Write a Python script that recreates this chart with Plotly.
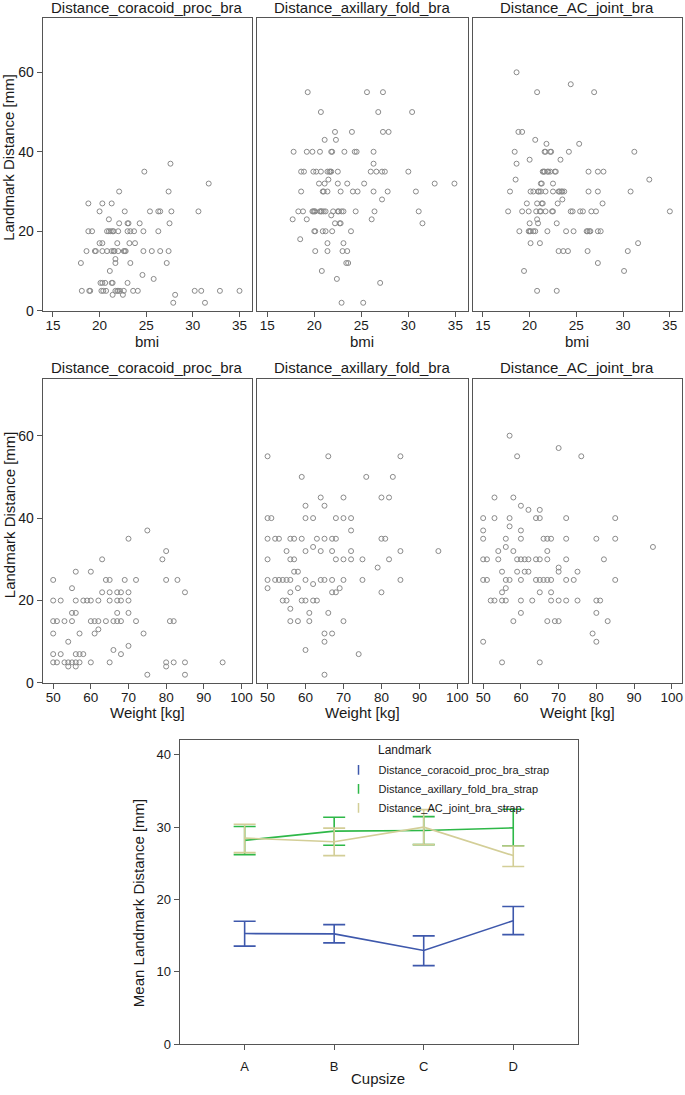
import plotly.graph_objects as go

# ---------------- data: BMI panels ----------------
bmi_coracoid_x = [
    27.6, 24.8, 31.7,
    22.1, 27.4,
    18.8, 20.3, 21.3,
    20.0, 22.7, 25.4, 26.3, 26.5, 27.7, 30.6,
    21.0,
    22.1, 23.0, 23.1, 24.3, 27.5,
    18.8, 19.2, 20.8, 21.0, 21.2, 21.4, 21.5, 22.0, 23.0, 23.3, 23.7, 24.7, 26.3,
    20.0, 20.3, 21.9, 23.2, 23.8,
    18.6, 19.5, 19.6, 20.3, 20.8, 21.3, 21.5, 21.6, 22.0, 22.6, 22.7, 22.8, 24.7, 25.6, 26.5, 27.4,
    21.7,
    18.0, 21.7, 23.3, 27.2,
    21.1, 24.6, 25.8,
    20.1, 20.3, 20.6, 21.3, 21.4, 23.0,
    18.1, 18.9, 19.0, 20.2, 20.4, 20.7, 21.7, 21.9, 22.0, 22.2, 22.6, 23.6, 24.1, 30.2, 30.9, 32.9, 35.0,
    21.4, 22.5, 28.1,
    27.9, 31.3,
]
bmi_coracoid_y = [
    37, 35, 32,
    30, 30,
    27, 27, 27,
    25, 25, 25, 25, 25, 25, 25,
    23,
    22, 22, 22, 22, 22,
    20, 20, 20, 20, 20, 20, 20, 20, 20, 20, 20, 20, 20,
    17, 17, 17, 17, 17,
    15, 15, 15, 15, 15, 15, 15, 15, 15, 15, 15, 15, 15, 15, 15, 15,
    13,
    12, 12, 12, 12,
    10, 9, 8,
    7, 7, 7, 7, 7, 7,
    5, 5, 5, 5, 5, 5, 5, 5, 5, 5, 5, 5, 5, 5, 5, 5, 5,
    4, 4, 4,
    2, 2,
]

bmi_axillary_x = [
    19.3, 25.6, 27.3,
    20.7, 26.8, 30.4,
    22.2, 24.0, 27.3, 27.9,
    21.1, 22.3,
    17.8, 19.2, 19.8, 20.6, 21.8, 21.9, 23.2, 24.3, 24.5, 26.3,
    26.3,
    18.6, 18.9, 19.9, 20.2, 20.7, 21.4, 21.6, 21.7, 21.8, 22.5, 26.0, 26.6, 27.2, 27.5, 30.0,
    21.5,
    20.5, 21.1, 22.5, 23.5, 25.3, 32.8, 34.9,
    18.6, 20.9, 21.0, 21.4, 22.8, 24.1, 24.6, 26.3, 27.8, 30.8,
    27.2,
    18.3, 18.8, 19.8, 19.9, 20.0, 20.1, 20.6, 20.7, 20.8, 21.0, 21.2, 22.0, 22.5, 22.6, 22.9, 23.1, 24.4, 26.4, 31.1,
    21.8,
    17.7, 19.2, 26.1,
    22.2, 22.7, 22.8, 31.5,
    20.0, 20.1, 20.9, 21.2, 21.9, 23.9,
    18.5,
    21.4, 23.1,
    20.1, 21.4, 23.0, 23.5,
    23.4, 23.6,
    20.8, 22.4, 27.0,
    22.9, 25.2,
]
bmi_axillary_y = [
    55, 55, 55,
    50, 50, 50,
    45, 45, 45, 45,
    43, 43,
    40, 40, 40, 40, 40, 40, 40, 40, 40, 40,
    37,
    35, 35, 35, 35, 35, 35, 35, 35, 35, 35, 35, 35, 35, 35, 35,
    33,
    32, 32, 32, 32, 32, 32, 32,
    30, 30, 30, 30, 30, 30, 30, 30, 30, 30,
    28,
    25, 25, 25, 25, 25, 25, 25, 25, 25, 25, 25, 25, 25, 25, 25, 25, 25, 25, 25,
    24,
    23, 23, 23,
    22, 22, 22, 22,
    20, 20, 20, 20, 20, 20,
    18,
    17, 17,
    15, 15, 15, 15,
    12, 12,
    10, 8, 7,
    2, 2,
]

bmi_ac_x = [
    18.6, 24.4,
    20.8, 26.9,
    18.8, 19.2,
    20.6,
    21.8, 25.3,
    18.4, 21.6, 21.7, 22.2, 22.3, 24.2, 31.2,
    20.0, 23.3,
    18.6,
    21.4, 21.5, 21.6, 21.9, 22.0, 22.2, 22.7, 22.8, 26.3, 27.3, 27.9,
    18.5, 32.8,
    21.2, 21.3, 22.5,
    17.9, 20.1, 20.4, 20.9, 21.0, 21.2, 21.7, 22.5, 23.1, 23.2, 23.4, 23.5, 23.7, 26.3, 27.3, 30.8,
    23.5,
    19.7, 20.8, 21.3, 21.4, 23.0, 27.8,
    17.7, 19.2, 19.9, 20.7, 21.1, 21.2, 21.7, 22.4, 22.5, 24.4, 24.6, 25.4, 25.7, 26.6, 27.1, 35.0,
    20.8,
    20.0, 20.9, 22.9,
    18.9, 19.9, 20.0, 20.1, 20.4, 20.6, 21.9, 23.9, 24.7, 26.1, 26.2, 26.4, 26.5, 27.3, 27.6,
    20.1, 21.1, 31.6,
    23.1, 23.6, 24.1, 26.2, 30.5,
    27.3,
    19.4, 30.1,
    20.8, 22.9,
]
bmi_ac_y = [
    60, 57,
    55, 55,
    45, 45,
    43,
    42, 42,
    40, 40, 40, 40, 40, 40, 40,
    38, 38,
    37,
    35, 35, 35, 35, 35, 35, 35, 35, 35, 35, 35,
    33, 33,
    32, 32, 32,
    30, 30, 30, 30, 30, 30, 30, 30, 30, 30, 30, 30, 30, 30, 30, 30,
    28,
    27, 27, 27, 27, 27, 27,
    25, 25, 25, 25, 25, 25, 25, 25, 25, 25, 25, 25, 25, 25, 25, 25,
    23,
    22, 22, 22,
    20, 20, 20, 20, 20, 20, 20, 20, 20, 20, 20, 20, 20, 20, 20,
    17, 17, 17,
    15, 15, 15, 15, 15,
    12,
    10, 10,
    5, 5,
]

# ---------------- data: weight panels ----------------
weight_coracoid_x = [
    75, 70, 80,
    63, 79,
    56, 60,
    50, 64, 65, 69, 72, 80, 83,
    55,
    63, 65, 67, 68, 70, 85,
    50, 52, 56, 58, 59, 60, 62, 65, 67, 68, 70,
    55, 56, 67, 70,
    50, 51, 53, 55, 60, 61, 62, 64, 66, 67, 68, 72, 81, 82,
    62,
    50, 57, 61, 74,
    54, 70, 66,
    50, 52, 56, 57, 58, 68,
    50, 51, 53, 54, 55, 56, 57, 60, 65, 80, 82, 85, 95,
    54, 56, 80,
    75, 85,
]
weight_coracoid_y = [
    37, 35, 32,
    30, 30,
    27, 27,
    25, 25, 25, 25, 25, 25, 25,
    23,
    22, 22, 22, 22, 22, 22,
    20, 20, 20, 20, 20, 20, 20, 20, 20, 20, 20,
    17, 17, 17, 17,
    15, 15, 15, 15, 15, 15, 15, 15, 15, 15, 15, 15, 15, 15,
    13,
    12, 12, 12, 12,
    10, 9, 8,
    7, 7, 7, 7, 7, 7,
    5, 5, 5, 5, 5, 5, 5, 5, 5, 5, 5, 5, 5,
    4, 4, 4,
    2, 2,
]

weight_axillary_x = [
    50, 66, 85,
    59, 76, 83,
    64, 70, 80, 82,
    60, 65,
    50, 51, 60, 62, 68, 70, 72,
    72,
    50, 52, 53, 56, 57, 59, 63, 65, 67, 68, 80, 81,
    62,
    55, 60, 64, 67, 72, 85, 95,
    50, 56, 57, 68, 70, 72, 75, 82,
    79,
    57, 58,
    50, 52, 53, 54, 55, 56, 60, 64, 65, 67, 70, 75, 85,
    62,
    50, 58, 69,
    56, 67, 68, 80,
    54, 55, 59, 60, 62, 63,
    56,
    61, 66,
    56, 58, 61, 70,
    65, 67,
    65, 60, 74,
    65,
]
weight_axillary_y = [
    55, 55, 55,
    50, 50, 50,
    45, 45, 45, 45,
    43, 43,
    40, 40, 40, 40, 40, 40, 40,
    37,
    35, 35, 35, 35, 35, 35, 35, 35, 35, 35, 35, 35,
    33,
    32, 32, 32, 32, 32, 32, 32,
    30, 30, 30, 30, 30, 30, 30, 30,
    28,
    27, 27,
    25, 25, 25, 25, 25, 25, 25, 25, 25, 25, 25, 25, 25,
    24,
    23, 23, 23,
    22, 22, 22, 22,
    20, 20, 20, 20, 20, 20,
    18,
    17, 17,
    15, 15, 15, 15,
    12, 12,
    10, 8, 7,
    2,
]

weight_ac_x = [
    57, 70,
    59, 76,
    53, 58,
    60,
    62, 65,
    50, 53, 57, 64, 65, 72, 85,
    57,
    50, 60,
    50, 56, 60, 66, 67, 68, 72, 80, 85,
    56, 95,
    54, 58, 67,
    50, 51, 54, 59, 60, 61, 62, 64, 65, 67, 72, 82,
    70,
    55, 59, 61, 62, 70, 75,
    50, 51, 56, 57, 60, 64, 65, 66, 67, 68, 72, 74, 85,
    56,
    55, 65, 68,
    52, 53, 55, 56, 60, 63, 68, 70, 72, 75, 80, 81,
    60, 80,
    58, 67, 69, 70, 83,
    79,
    50, 80,
    55, 65,
]
weight_ac_y = [
    60, 57,
    55, 55,
    45, 45,
    43,
    42, 42,
    40, 40, 40, 40, 40, 40, 40,
    38,
    37, 37,
    35, 35, 35, 35, 35, 35, 35, 35, 35,
    33, 33,
    32, 32, 32,
    30, 30, 30, 30, 30, 30, 30, 30, 30, 30, 30, 30,
    28,
    27, 27, 27, 27, 27, 27,
    25, 25, 25, 25, 25, 25, 25, 25, 25, 25, 25, 25, 25,
    23,
    22, 22, 22,
    20, 20, 20, 20, 20, 20, 20, 20, 20, 20, 20, 20,
    17, 17,
    15, 15, 15, 15, 15,
    12,
    10, 10,
    5, 5,
]

# ---------------- data: cupsize means with 95% CI ----------------
cupsize = ["A", "B", "C", "D"]
coracoid_mean = [15.30, 15.25, 12.97, 17.08]
coracoid_upper = [17.00, 16.53, 14.98, 19.04]
coracoid_lower = [13.56, 14.02, 10.87, 15.16]
axillary_mean = [28.17, 29.45, 29.54, 29.90]
axillary_upper = [30.09, 31.37, 31.46, 32.47]
axillary_lower = [26.21, 27.49, 27.58, 27.44]
ac_mean = [28.49, 27.99, 30.00, 26.07]
ac_upper = [30.41, 29.86, 32.42, 27.40]
ac_lower = [26.48, 26.07, 27.58, 24.57]

panel_titles = ["Distance_coracoid_proc_bra", "Distance_axillary_fold_bra", "Distance_AC_joint_bra"]
legend_names = ["Distance_coracoid_proc_bra_strap", "Distance_axillary_fold_bra_strap",
                "Distance_AC_joint_bra_strap"]
series_colors = ["#3E58AC", "#2EB848", "#D3CE97"]

# ---------------- layout helpers ----------------
W, H = 685, 1095
FONT = "Liberation Sans, Arial, sans-serif"
LINE = "#555555"
TXT = "#1a1a1a"


def px(x):
    return x / W


def py(y):
    return 1 - y / H


col_px = [(42.7, 252.0), (257.3, 468.3), (473.3, 683.0)]
row1_px = (18.0, 313.0)
row2_px = (382.0, 688.0)

fig = go.Figure()

scatter_sets = [
    (bmi_coracoid_x, bmi_coracoid_y), (bmi_axillary_x, bmi_axillary_y), (bmi_ac_x, bmi_ac_y),
    (weight_coracoid_x, weight_coracoid_y), (weight_axillary_x, weight_axillary_y), (weight_ac_x, weight_ac_y),
]

for i, (xs, ys) in enumerate(scatter_sets):
    n = i + 1
    fig.add_trace(go.Scatter(
        x=xs, y=ys, mode="markers",
        marker=dict(symbol="circle-open", size=5, color="#8a8a8a", line=dict(width=1, color="#8a8a8a")),
        xaxis="x" if n == 1 else f"x{n}", yaxis="y" if n == 1 else f"y{n}",
        showlegend=False, hoverinfo="skip",
    ))

layout = dict(
    width=W, height=H, margin=dict(l=0, r=0, t=0, b=0),
    paper_bgcolor="white", plot_bgcolor="white",
    font=dict(family=FONT, color=TXT, size=13),
    showlegend=True,
)

annotations = []
for i in range(6):
    n = i + 1
    col = i % 3
    row_px = row1_px if i < 3 else row2_px
    xdom = [px(col_px[col][0]), px(col_px[col][1])]
    ydom = [py(row_px[1]), py(row_px[0])]
    is_bmi = i < 3
    xkey = "xaxis" if n == 1 else f"xaxis{n}"
    ykey = "yaxis" if n == 1 else f"yaxis{n}"
    yanchor_name = "y" if n == 1 else f"y{n}"
    xanchor_name = "x" if n == 1 else f"x{n}"
    layout[xkey] = dict(
        domain=xdom, anchor=yanchor_name,
        range=[13.9, 36.3] if is_bmi else [47.2, 102.7],
        tickvals=[15, 20, 25, 30, 35] if is_bmi else [50, 60, 70, 80, 90, 100],
        ticks="outside", ticklen=5, tickcolor=LINE, tickwidth=1,
        ticklabelstandoff=-3,
        showline=True, linecolor=LINE, linewidth=1.2, mirror=True,
        showgrid=False, zeroline=False,
        tickfont=dict(size=13.5, color=TXT, family=FONT),
    )
    layout[ykey] = dict(
        domain=ydom, anchor=xanchor_name,
        range=[0, 73.7],
        tickvals=[0, 20, 40, 60],
        ticks="outside" if col == 0 else "", ticklen=5, tickcolor=LINE, tickwidth=1,
        showticklabels=(col == 0),
        showline=True, linecolor=LINE, linewidth=1.2, mirror=True,
        showgrid=False, zeroline=False,
        tickfont=dict(size=14, color=TXT, family=FONT),
    )
    # panel title
    title_y = 8 if i < 3 else 370
    annotations.append(dict(
        text=panel_titles[col], x=(xdom[0] + xdom[1]) / 2, y=py(title_y),
        xref="paper", yref="paper", xanchor="center", yanchor="middle",
        showarrow=False, font=dict(size=15, color=TXT, family=FONT),
    ))
    # x axis title
    annotations.append(dict(
        text="bmi" if is_bmi else "Weight [kg]",
        x=(xdom[0] + xdom[1]) / 2, y=py(344 if is_bmi else 718),
        xref="paper", yref="paper", xanchor="center", yanchor="middle",
        showarrow=False, font=dict(size=15, color=TXT, family=FONT),
    ))

for yc in (158, 518):
    annotations.append(dict(
        text="Landmark Distance [mm]", x=px(9), y=py(yc), textangle=-90,
        xref="paper", yref="paper", xanchor="center", yanchor="middle",
        showarrow=False, font=dict(size=15, color=TXT, family=FONT),
    ))

# ---------------- bottom chart ----------------
means = [coracoid_mean, axillary_mean, ac_mean]
uppers = [coracoid_upper, axillary_upper, ac_upper]
lowers = [coracoid_lower, axillary_lower, ac_lower]
for m, u, l, c in zip(means, uppers, lowers, series_colors):
    fig.add_trace(go.Scatter(
        x=cupsize, y=m, mode="lines",
        line=dict(color=c, width=1.6),
        error_y=dict(type="data", symmetric=False,
                     array=[ui - mi for ui, mi in zip(u, m)],
                     arrayminus=[mi - li for mi, li in zip(m, l)],
                     color=c, thickness=1.6, width=11),
        xaxis="x7", yaxis="y7", showlegend=False, hoverinfo="skip",
    ))

for name, c in zip(legend_names, series_colors):
    fig.add_trace(go.Scatter(
        x=[None], y=[None], mode="markers", name=name,
        marker=dict(symbol="line-ns-open", size=7, color=c, line=dict(width=1.5, color=c)),
        xaxis="x7", yaxis="y7", showlegend=True,
    ))

layout["xaxis7"] = dict(
    domain=[px(180), px(579)], anchor="y7",
    type="category", categoryorder="array", categoryarray=cupsize,
    range=[-0.725, 3.725],
    ticks="outside", ticklen=5, tickcolor=LINE, tickwidth=1,
    ticklabelstandoff=5,
    showline=True, linecolor=LINE, linewidth=1.2, mirror=True,
    showgrid=False, zeroline=False,
    tickfont=dict(size=13, color=TXT, family=FONT),
)
layout["yaxis7"] = dict(
    domain=[py(1052), py(745)], anchor="x7",
    range=[0, 42.1], tickvals=[0, 10, 20, 30, 40],
    ticks="outside", ticklen=5, tickcolor=LINE, tickwidth=1,
    showline=True, linecolor=LINE, linewidth=1.2, mirror=True,
    showgrid=False, zeroline=False,
    tickfont=dict(size=13, color=TXT, family=FONT),
)
annotations.append(dict(
    text="Cupsize", x=px(379), y=py(1086), xref="paper", yref="paper",
    xanchor="center", yanchor="middle", showarrow=False,
    font=dict(size=15, color=TXT, family=FONT),
))
annotations.append(dict(
    text="Mean Landmark Distance [mm]", x=px(139), y=py(910), textangle=-90,
    xref="paper", yref="paper", xanchor="center", yanchor="middle", showarrow=False,
    font=dict(size=15, color=TXT, family=FONT),
))
annotations.append(dict(
    text="Landmark", x=px(377), y=py(756), xref="paper", yref="paper",
    xanchor="left", yanchor="middle", showarrow=False,
    font=dict(size=12, color=TXT, family=FONT),
))

layout["legend"] = dict(
    x=px(339), y=py(761), xanchor="left", yanchor="top",
    bgcolor="rgba(0,0,0,0)", borderwidth=0,
    font=dict(size=11, color=TXT, family=FONT),
    tracegroupgap=0,
)
layout["annotations"] = annotations

fig.update_layout(**layout)
fig.write_html(
    "out.html",
    config={"displayModeBar": False},
    post_script="document.body.style.margin='0';document.body.style.overflow='hidden';",
)
